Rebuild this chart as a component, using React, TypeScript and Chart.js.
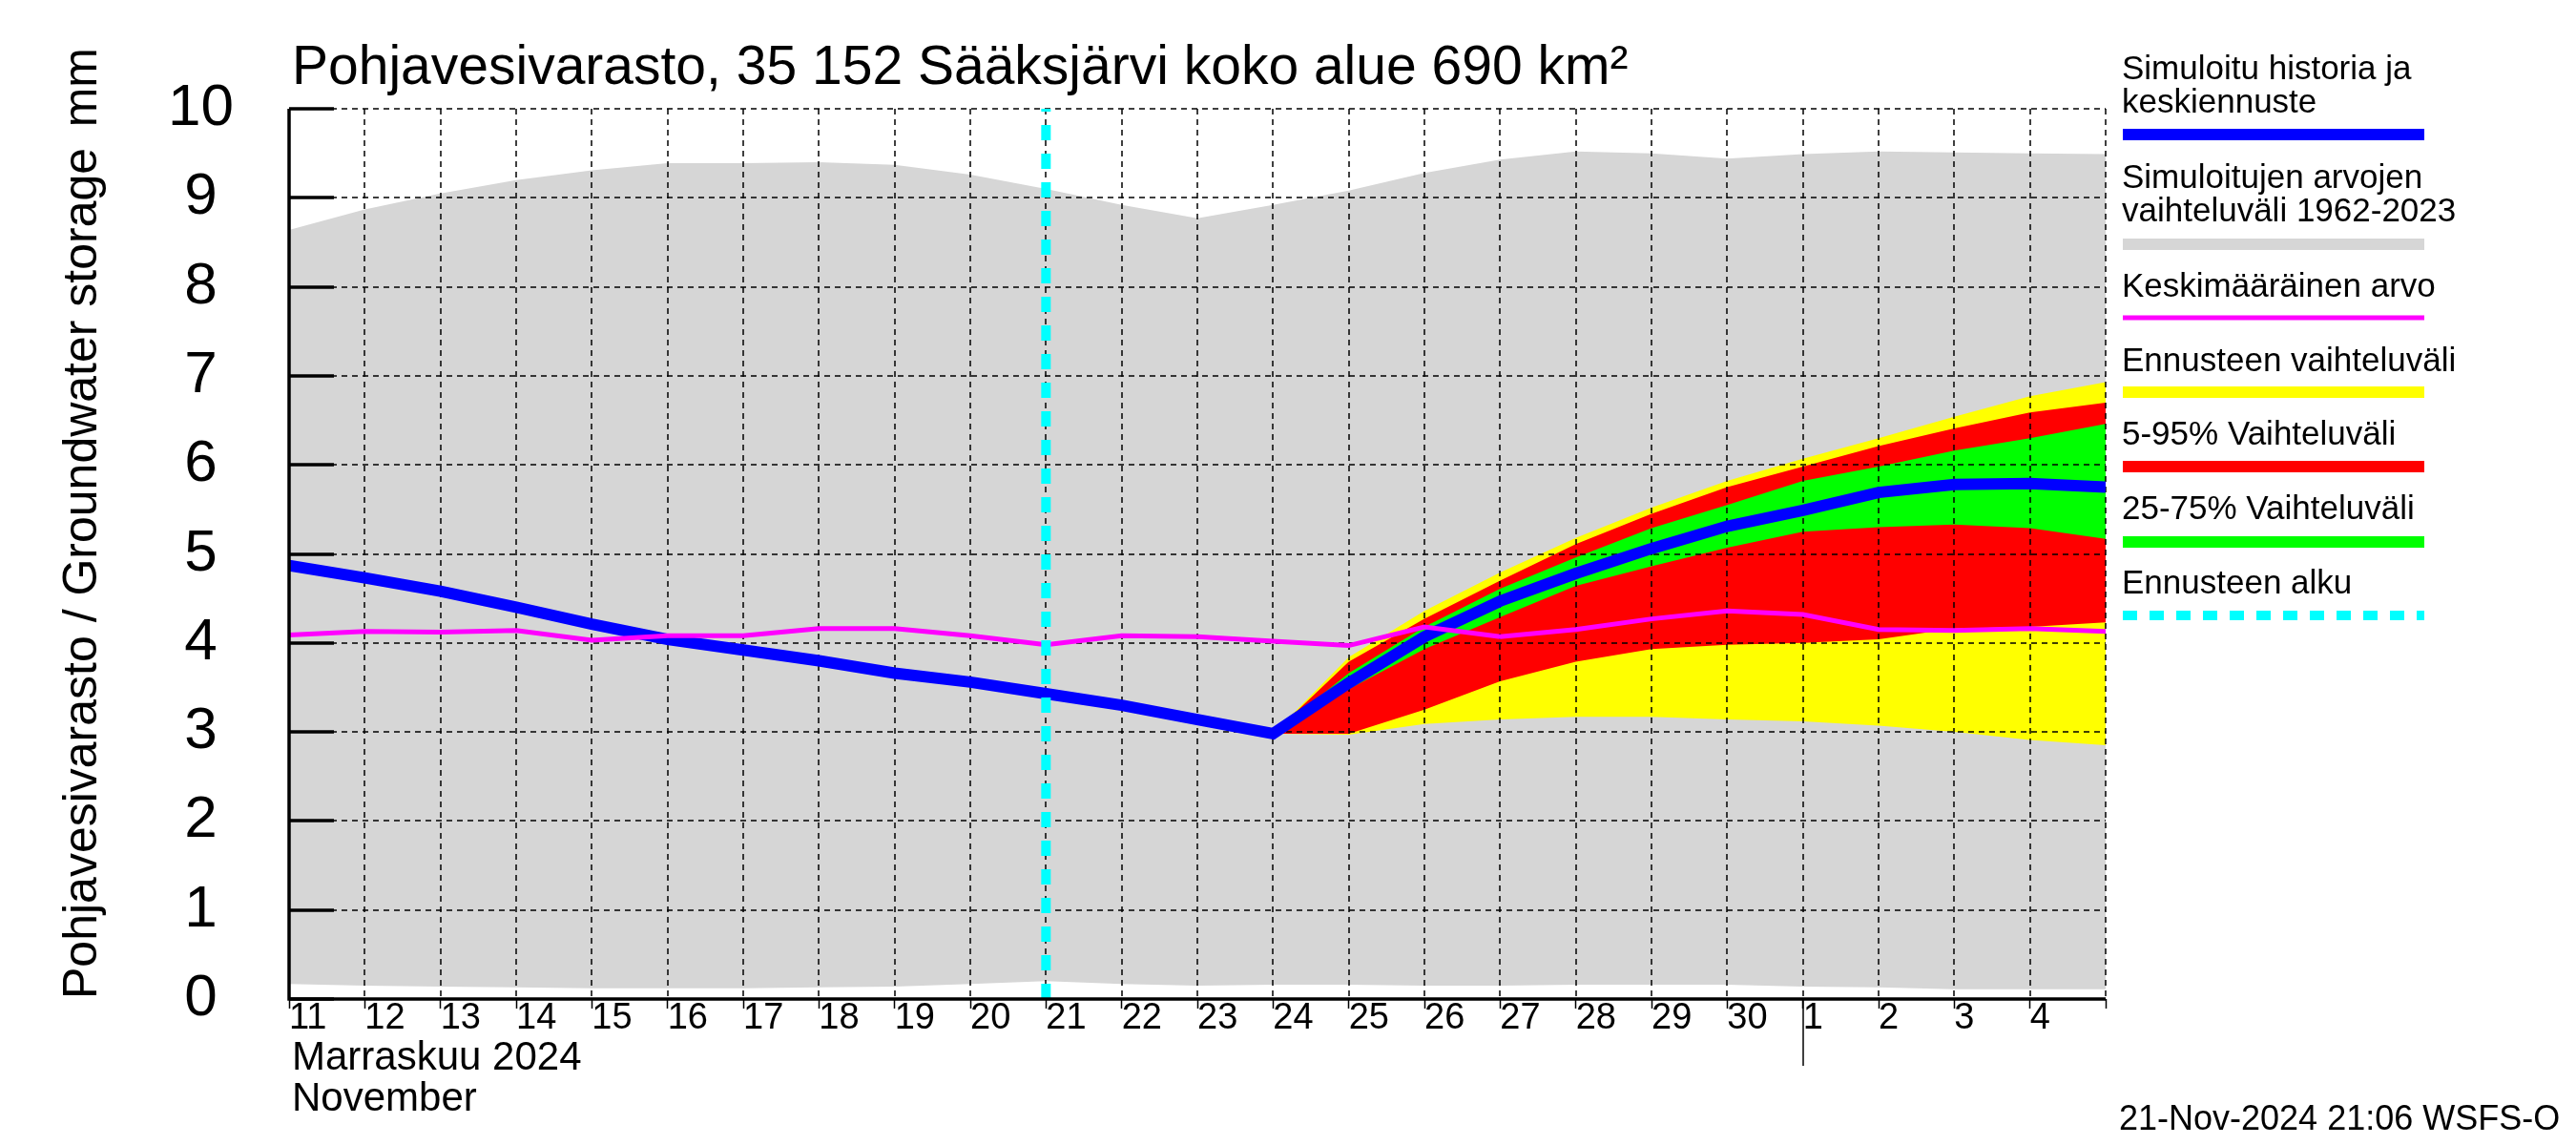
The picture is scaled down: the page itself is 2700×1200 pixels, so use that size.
import React, { useEffect, useRef } from 'react';
import { Chart, registerables } from 'chart.js';

Chart.register(...registerables);

// ---------- data ----------
const DAYS = [0, 1, 2, 3, 4, 5, 6, 7, 8, 9, 10, 11, 12, 13, 14, 15, 16, 17, 18, 19, 20, 21, 22, 23, 24];
const DAY_LABELS = ['11', '12', '13', '14', '15', '16', '17', '18', '19', '20', '21', '22', '23', '24', '25', '26', '27', '28', '29', '30', '1', '2', '3', '4', ''];

const HIST_MAX = [8.64, 8.87, 9.05, 9.2, 9.31, 9.39, 9.39, 9.4, 9.37, 9.26, 9.1, 8.92, 8.77, 8.92, 9.08, 9.28, 9.43, 9.52, 9.5, 9.44, 9.49, 9.52, 9.51, 9.5, 9.49];
const HIST_MIN = [0.17, 0.15, 0.14, 0.13, 0.12, 0.12, 0.12, 0.13, 0.14, 0.17, 0.2, 0.17, 0.15, 0.16, 0.16, 0.15, 0.15, 0.16, 0.16, 0.16, 0.14, 0.13, 0.11, 0.11, 0.11];
const MEAN = [4.09, 4.13, 4.12, 4.14, 4.03, 4.08, 4.08, 4.16, 4.16, 4.08, 3.98, 4.08, 4.07, 4.02, 3.97, 4.18, 4.07, 4.15, 4.27, 4.36, 4.32, 4.15, 4.14, 4.16, 4.13];
const SIMULATED = [4.87, 4.73, 4.58, 4.4, 4.21, 4.04, 3.92, 3.8, 3.66, 3.56, 3.43, 3.3, 3.14, 2.98, 3.55, 4.07, 4.47, 4.78, 5.06, 5.31, 5.49, 5.69, 5.78, 5.79, 5.75];

const FC_DAYS = [13, 14, 15, 16, 17, 18, 19, 20, 21, 22, 23, 24];
const FC_MAX = [2.98, 3.84, 4.36, 4.79, 5.18, 5.52, 5.82, 6.07, 6.3, 6.54, 6.77, 6.93];
const FC_P95 = [2.98, 3.79, 4.27, 4.7, 5.11, 5.45, 5.75, 5.98, 6.21, 6.41, 6.59, 6.7];
const FC_P75 = [2.98, 3.66, 4.18, 4.61, 4.96, 5.29, 5.55, 5.82, 5.98, 6.16, 6.3, 6.46];
const FC_P25 = [2.98, 3.48, 3.93, 4.29, 4.64, 4.86, 5.07, 5.25, 5.3, 5.33, 5.29, 5.17];
const FC_P5 = [2.98, 2.98, 3.25, 3.57, 3.79, 3.93, 3.98, 4.0, 4.04, 4.16, 4.18, 4.23];
const FC_MIN = [2.98, 2.97, 3.09, 3.14, 3.17, 3.17, 3.14, 3.12, 3.07, 3.0, 2.91, 2.85];

const FORECAST_START_DAY = 10;
const MONTH_START_DAY = 20;
const X_MIN = 0;
const X_MAX = 24;
const Y_MIN = 0;
const Y_MAX = 10;

const TITLE = 'Pohjavesivarasto, 35 152 Sääksjärvi koko alue 690 km²';
const Y_TITLE = 'Pohjavesivarasto / Groundwater storage';
const Y_UNIT = 'mm';
const MONTH_FI = 'Marraskuu 2024';
const MONTH_EN = 'November';
const STAMP = '21-Nov-2024 21:06 WSFS-O';

const LEGEND_TEXT = [
  ['Simuloitu historia ja', 'keskiennuste'],
  ['Simuloitujen arvojen', 'vaihteluväli 1962-2023'],
  ['Keskimääräinen arvo'],
  ['Ennusteen vaihteluväli'],
  ['5-95% Vaihteluväli'],
  ['25-75% Vaihteluväli'],
  ['Ennusteen alku'],
];

// ---------- style ----------
const FONT = "'Liberation Sans', Arimo, Arial, sans-serif";
const C_BLUE = '#0000ff';
const C_GRAY = '#d6d6d6';
const C_PINK = '#ff00ff';
const C_YELLOW = '#ffff00';
const C_RED = '#ff0000';
const C_GREEN = '#00ff00';
const C_CYAN = '#00ffff';

const LEGEND_STYLE = [
  { color: C_BLUE, width: 12, dash: [] as number[], baselines: [83, 118], bar: 141 },
  { color: C_GRAY, width: 12, dash: [], baselines: [197, 232], bar: 256 },
  { color: C_PINK, width: 5, dash: [], baselines: [311], bar: 333 },
  { color: C_YELLOW, width: 12, dash: [], baselines: [389], bar: 411 },
  { color: C_RED, width: 12, dash: [], baselines: [466], bar: 489 },
  { color: C_GREEN, width: 12, dash: [], baselines: [544], bar: 568 },
  { color: C_CYAN, width: 10, dash: [15, 13], baselines: [622], bar: 645 },
];

const BLUE_INDEX = 2;

const pts = (xs: number[], ys: number[]) => xs.map((x, i) => ({ x, y: ys[i] }));

const overlayPlugin = {
  id: 'overlay',
  beforeDatasetDraw(chart: any, args: any) {
    if (args.index !== BLUE_INDEX) return;
    const { ctx, chartArea: a } = chart;
    const xs = chart.scales.x;
    const ys = chart.scales.y;
    ctx.save();
    ctx.strokeStyle = '#000';
    ctx.lineWidth = 1.5;
    ctx.setLineDash([6, 5]);
    xs.ticks.forEach((t: any) => {
      if (t.value === X_MIN) return;
      const px = Math.round(xs.getPixelForValue(t.value));
      ctx.beginPath();
      ctx.moveTo(px, a.top);
      ctx.lineTo(px, a.bottom);
      ctx.stroke();
    });
    ys.ticks.forEach((t: any) => {
      if (t.value === Y_MIN) return;
      const py = Math.round(ys.getPixelForValue(t.value));
      ctx.beginPath();
      ctx.moveTo(a.left, py);
      ctx.lineTo(a.right, py);
      ctx.stroke();
    });
    ctx.restore();
  },
  afterDatasetsDraw(chart: any) {
    const { ctx, chartArea: a } = chart;
    const xs = chart.scales.x;
    const ys = chart.scales.y;
    ctx.save();
    ctx.strokeStyle = '#000';
    ctx.setLineDash([]);
    ctx.lineWidth = 3.5;
    ctx.beginPath();
    ctx.moveTo(a.left, a.top);
    ctx.lineTo(a.left, a.bottom);
    ctx.lineTo(a.right, a.bottom);
    ctx.stroke();
    ys.ticks.forEach((t: any) => {
      const py = Math.round(ys.getPixelForValue(t.value));
      ctx.beginPath();
      ctx.moveTo(a.left, py);
      ctx.lineTo(a.left + 47, py);
      ctx.stroke();
    });
    ctx.lineWidth = 1.5;
    const mx = Math.round(xs.getPixelForValue(MONTH_START_DAY));
    ctx.beginPath();
    ctx.moveTo(mx, a.bottom);
    ctx.lineTo(mx, a.bottom + 70);
    ctx.stroke();
    ctx.restore();
  },
  afterDraw(chart: any) {
    const { ctx } = chart;
    ctx.save();
    ctx.fillStyle = '#000';
    ctx.textBaseline = 'alphabetic';
    ctx.textAlign = 'left';
    // title
    ctx.font = `57px ${FONT}`;
    ctx.fillText(TITLE, 306, 88);
    // month labels
    ctx.font = `42px ${FONT}`;
    ctx.fillText(MONTH_FI, 306, 1121);
    ctx.fillText(MONTH_EN, 306, 1164);
    // stamp
    ctx.font = `36px ${FONT}`;
    ctx.fillText(STAMP, 2221, 1184);
    // y title
    ctx.save();
    ctx.translate(101, 1047);
    ctx.rotate(-Math.PI / 2);
    ctx.font = `50px ${FONT}`;
    ctx.textAlign = 'left';
    ctx.fillText(Y_TITLE, 0, 0);
    ctx.textAlign = 'right';
    ctx.fillText(Y_UNIT, 1047 - 50, 0);
    ctx.restore();
    // legend
    ctx.font = `35px ${FONT}`;
    LEGEND_TEXT.forEach((lines, i) => {
      const st = LEGEND_STYLE[i];
      lines.forEach((ln, j) => ctx.fillText(ln, 2224, st.baselines[j]));
      ctx.save();
      ctx.strokeStyle = st.color;
      ctx.lineWidth = st.width;
      ctx.lineCap = 'butt';
      ctx.setLineDash(st.dash);
      ctx.beginPath();
      ctx.moveTo(2225, st.bar);
      ctx.lineTo(2541, st.bar);
      ctx.stroke();
      ctx.restore();
    });
    ctx.restore();
  },
};

export default function App() {
  const ref = useRef<HTMLCanvasElement>(null);
  useEffect(() => {
    if (!ref.current) return;
    const band = (data: any, color: string, order: number, fill: any) => ({
      type: 'line',
      data,
      borderWidth: 0,
      borderColor: 'rgba(0,0,0,0)',
      backgroundColor: color,
      pointRadius: 0,
      tension: 0,
      fill,
      order,
    });
    const chart = new Chart(ref.current, {
      type: 'line',
      data: {
        datasets: [
          {
            label: 'Ennusteen alku',
            data: [
              { x: FORECAST_START_DAY, y: Y_MIN },
              { x: FORECAST_START_DAY, y: Y_MAX },
            ],
            borderColor: C_CYAN,
            borderWidth: 10,
            borderDash: [16, 14],
            borderCapStyle: 'butt',
            pointRadius: 0,
            fill: false,
            order: 0,
          },
          {
            label: 'Keskimääräinen arvo',
            data: pts(DAYS, MEAN),
            borderColor: C_PINK,
            borderWidth: 5,
            pointRadius: 0,
            tension: 0,
            fill: false,
            order: 1,
          },
          {
            label: 'Simuloitu historia ja keskiennuste',
            data: pts(DAYS, SIMULATED),
            borderColor: C_BLUE,
            borderWidth: 12,
            pointRadius: 0,
            tension: 0,
            fill: false,
            order: 2,
          },
          band(pts(FC_DAYS, FC_P75), C_GREEN, 3, '+1'),
          band(pts(FC_DAYS, FC_P25), 'rgba(0,0,0,0)', 3.5, false),
          band(pts(FC_DAYS, FC_P95), C_RED, 4, '+1'),
          band(pts(FC_DAYS, FC_P5), 'rgba(0,0,0,0)', 4.5, false),
          band(pts(FC_DAYS, FC_MAX), C_YELLOW, 5, '+1'),
          band(pts(FC_DAYS, FC_MIN), 'rgba(0,0,0,0)', 5.5, false),
          band(pts(DAYS, HIST_MAX), C_GRAY, 7, '+1'),
          band(pts(DAYS, HIST_MIN), 'rgba(0,0,0,0)', 7.5, false),
        ] as any,
      },
      options: {
        responsive: false,
        animation: false,
        devicePixelRatio: 1,
        events: [],
        layout: { padding: { left: 0, top: 114, right: 493, bottom: 0 } },
        plugins: {
          legend: { display: false },
          tooltip: { enabled: false },
          title: { display: false },
        },
        scales: {
          x: {
            type: 'linear',
            min: X_MIN,
            max: X_MAX,
            border: { display: false },
            grid: {
              drawOnChartArea: false,
              drawTicks: true,
              tickLength: 10,
              tickWidth: 1.5,
              tickColor: '#000',
            },
            ticks: {
              stepSize: 1,
              autoSkip: false,
              maxRotation: 0,
              minRotation: 0,
              align: 'start',
              padding: -12,
              color: '#000',
              font: { family: FONT, size: 38 },
              callback: (v: any) => DAY_LABELS[v] ?? '',
            },
            afterFit: (s: any) => {
              s.height = 153;
            },
          },
          y: {
            type: 'linear',
            min: Y_MIN,
            max: Y_MAX,
            border: { display: false },
            grid: { display: false, drawTicks: false },
            ticks: {
              stepSize: 1,
              crossAlign: 'center',
              padding: 58,
              color: '#000',
              font: { family: FONT, size: 62 },
              callback: (v: any) => String(v),
            },
            afterFit: (s: any) => {
              s.width = 303;
            },
          },
        },
      } as any,
      plugins: [overlayPlugin as any],
    });
    return () => chart.destroy();
  }, []);
  return (
    <div style={{ position: 'absolute', left: 0, top: 0, width: 2700, height: 1200, background: '#fff' }}>
      <canvas ref={ref} width={2700} height={1200} style={{ width: '2700px', height: '1200px', display: 'block' }} />
    </div>
  );
}
